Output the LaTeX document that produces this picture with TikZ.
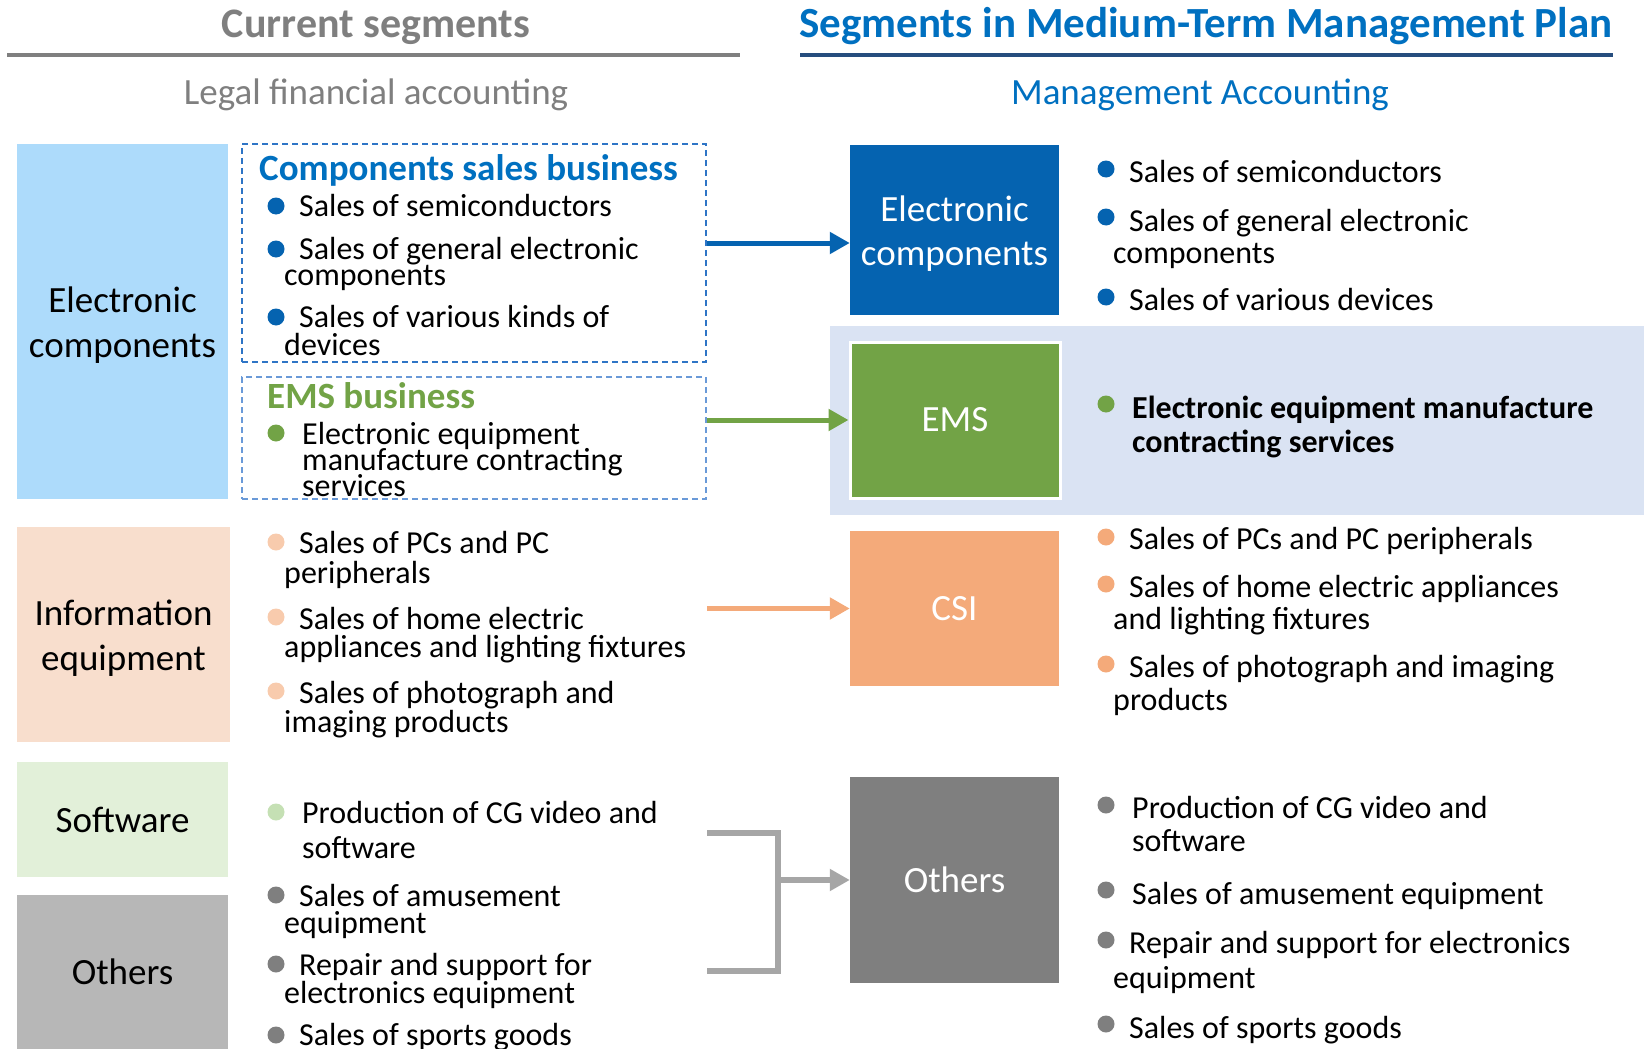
\documentclass[tikz,border=0pt]{standalone}
\usepackage{fontspec}
\setmainfont{Carlito}
\usetikzlibrary{arrows.meta}
\definecolor{elblue}{HTML}{0563B0}
\definecolor{skyblue}{HTML}{ADDBFB}
\definecolor{peach}{HTML}{F8DECD}
\definecolor{peachdot}{HTML}{F8CBAD}
\definecolor{csiorange}{HTML}{F4AA7A}
\definecolor{emsgreen}{HTML}{72A346}
\definecolor{swgreen}{HTML}{E2F0D9}
\definecolor{swdot}{HTML}{C5E0B4}
\definecolor{band}{HTML}{DAE3F3}
\definecolor{navy}{HTML}{264D7E}
\definecolor{headblue}{HTML}{0070C0}
\definecolor{dashblue}{HTML}{2E75C6}
\definecolor{dashlight}{HTML}{6A9AD8}
\definecolor{othgray}{HTML}{7F7F7F}
\definecolor{lightgray}{HTML}{B7B7B7}
\definecolor{brgray}{HTML}{A6A6A6}

\begin{document}
\begin{tikzpicture}[x=1pt,y=-1pt,
    every node/.style={inner sep=0pt},
    seg/.style={minimum width=211pt, minimum height=#1, align=center,
      font=\fontsize{37}{45}\selectfont},
    newseg/.style={minimum width=209pt, minimum height=#1, align=center,
      text=white, font=\fontsize{37}{44}\selectfont},
    segtext/.style={align=center, font=\fontsize{37}{45}\selectfont},
    group/.style={draw=#1, line width=1.8pt, dash pattern=on 6pt off 4pt,
      minimum width=464pt},
    dot/.style={circle, minimum size=17pt, fill=#1},
    item/.style={anchor=base west, align=left,
      font={\fontsize{32}{#1}\selectfont\lineskiplimit-100pt\relax}},
    item/.default=27,
    bitem/.style={anchor=base west, align=left,
      font={\fontsize{32}{#1}\selectfont\bfseries\lineskiplimit-100pt\relax}},
    bitem/.default=34,
    arr/.style={line width=5pt, draw=#1, -{Triangle[length=20pt,width=21pt]}}]
  \useasboundingbox (0,0) rectangle (1647,1049);

  % headings
  \node[anchor=base, text=othgray, font=\fontsize{42}{50}\selectfont\bfseries] (curH) at (376,38) {Current segments};
  \node[anchor=base, text=headblue, font=\fontsize{43}{50}\selectfont\bfseries] (newH) at (1206,38) {Segments in Medium-Term Management Plan};
  \draw[othgray, line width=4pt] (7,55) -- (740,55);
  \draw[navy, line width=4pt] (800,55) -- (1613,55);
  \node[anchor=base, text=othgray, font=\fontsize{37}{44}\selectfont] (curS) at (376,104) {Legal financial accounting};
  \node[anchor=base, text=headblue, font=\fontsize{37}{44}\selectfont] (newS) at (1200,104) {Management Accounting};

  % current segments
  \node[seg=355pt, fill=skyblue] (lEC) at (122.5,321.5) {};
  \node[segtext] (lECt) at ([yshift=-4pt]lEC.center) {Electronic\\components};
  \node[seg=215pt, fill=peach, minimum width=213pt] (lIE) at (123.5,634.5) {};
  \node[segtext] (lIEt) at ([yshift=-4pt]lIE.center) {Information\\equipment};
  \node[seg=115pt, fill=swgreen] (lSW) at (122.5,819.5) {Software};
  \node[seg=154pt, fill=lightgray] (lOT) at (122.5,972) {Others};

  \node[group=dashblue, minimum height=218pt] (dCS) at (474,253) {};
  \node[group=dashlight, minimum height=122pt] (dEMS) at (474,438) {};
  \node[anchor=base west, text=headblue, font=\fontsize{37}{44}\selectfont\bfseries] (csT) at (259,180) {Components sales business};
  \node[anchor=base west, text=emsgreen, font=\fontsize{37}{44}\selectfont\bfseries] (emsT) at (267,408) {EMS business};

  \node[dot=elblue] (lc1) at (276,206) {};
  \node[item] (lc1t) at (284,216) {\hspace*{15pt}Sales of semiconductors};
  \node[dot=elblue] (lc2) at (276,249) {};
  \node[item=26] (lc2t) at (284,285) {\hspace*{15pt}Sales of general electronic\\components};
  \node[dot=elblue] (lc3) at (276,317) {};
  \node[item=28] (lc3t) at (284,355) {\hspace*{15pt}Sales of various kinds of\\devices};
  \node[dot=emsgreen] (le1) at (276,433) {};
  \node[item=26] (le1t) at (302,496) {Electronic equipment\\manufacture contracting\\services};

  \node[dot=peachdot] (li1) at (276,542) {};
  \node[item=30] (li1t) at (284,583) {\hspace*{15pt}Sales of PCs and PC\\peripherals};
  \node[dot=peachdot] (li2) at (276,617) {};
  \node[item=28] (li2t) at (284,657) {\hspace*{15pt}Sales of home electric\\appliances and lighting fixtures};
  \node[dot=peachdot] (li3) at (276,691) {};
  \node[item=29] (li3t) at (284,732) {\hspace*{15pt}Sales of photograph and\\imaging products};

  \node[dot=swdot] (ls1) at (276,812) {};
  \node[item=35] (ls1t) at (302,858) {Production of CG video and\\software};
  \node[dot=othgray] (lo1) at (276,895) {};
  \node[item] (lo1t) at (284,933) {\hspace*{15pt}Sales of amusement\\equipment};
  \node[dot=othgray] (lo2) at (276,964) {};
  \node[item=28] (lo2t) at (284,1003) {\hspace*{15pt}Repair and support for\\electronics equipment};
  \node[dot=othgray] (lo3) at (276,1035) {};
  \node[item] (lo3t) at (284,1045) {\hspace*{15pt}Sales of sports goods};

  % segments in the plan
  \fill[band] (830,326) rectangle (1644,515);
  \node[newseg=170pt, fill=elblue] (rEC) at (954.5,230) {};
  \node[segtext, text=white, font=\fontsize{37}{44}\selectfont] (rECt) at ([yshift=-4pt]rEC.center) {Electronic\\components};
  \node[newseg=156pt, minimum width=210pt, fill=emsgreen, draw=white, line width=3pt] (rEMS) at (955,420) {EMS};
  \node[newseg=155pt, fill=csiorange] (rCSI) at (954.5,608.5) {CSI};
  \node[newseg=206pt, fill=othgray] (rOT) at (954.5,880) {Others};

  \node[dot=elblue] (rc1) at (1106,169) {};
  \node[item] (rc1t) at (1113,182) {\hspace*{16pt}Sales of semiconductors};
  \node[dot=elblue] (rc2) at (1106,217) {};
  \node[item=32] (rc2t) at (1113,263) {\hspace*{16pt}Sales of general electronic\\components};
  \node[dot=elblue] (rc3) at (1106,297) {};
  \node[item] (rc3t) at (1113,310) {\hspace*{16pt}Sales of various devices};
  \node[dot=emsgreen] (re1) at (1106,404) {};
  \node[bitem] (re1t) at (1132,452) {Electronic equipment manufacture\\contracting services};

  \node[dot=csiorange] (ri1) at (1106,537) {};
  \node[item] (ri1t) at (1113,549) {\hspace*{16pt}Sales of PCs and PC peripherals};
  \node[dot=csiorange] (ri2) at (1106,584) {};
  \node[item=32] (ri2t) at (1113,629) {\hspace*{16pt}Sales of home electric appliances\\and lighting fixtures};
  \node[dot=csiorange] (ri3) at (1106,664) {};
  \node[item=33] (ri3t) at (1113,710) {\hspace*{16pt}Sales of photograph and imaging\\products};

  \node[dot=othgray] (ro1) at (1106,805) {};
  \node[item=33] (ro1t) at (1132,851) {Production of CG video and\\software};
  \node[dot=othgray] (ro2) at (1106,890) {};
  \node[item] (ro2t) at (1132,904) {Sales of amusement equipment};
  \node[dot=othgray] (ro3) at (1106,940) {};
  \node[item=35] (ro3t) at (1113,988) {\hspace*{16pt}Repair and support for electronics\\equipment};
  \node[dot=othgray] (ro4) at (1106,1024) {};
  \node[item] (ro4t) at (1113,1038) {\hspace*{16pt}Sales of sports goods};

  % arrows
  \coordinate (brTop) at (707,833);
  \coordinate (brBot) at (707,971);
  \coordinate (brMid) at (778,880);
  \draw[arr=elblue] (dCS.east |- 0,243) -- (rEC.west |- 0,243);
  \draw[arr=emsgreen] (dEMS.east |- rEMS.west) -- (rEMS.west);
  \draw[arr=csiorange] (dCS.east |- rCSI.west) -- (rCSI.west);
  \draw[brgray, line width=6pt] (brTop) -| (brMid |- brBot) -- (brBot);
  \draw[arr=brgray, line width=6pt] (brMid) -- (rOT.west);
\end{tikzpicture}
\end{document}
